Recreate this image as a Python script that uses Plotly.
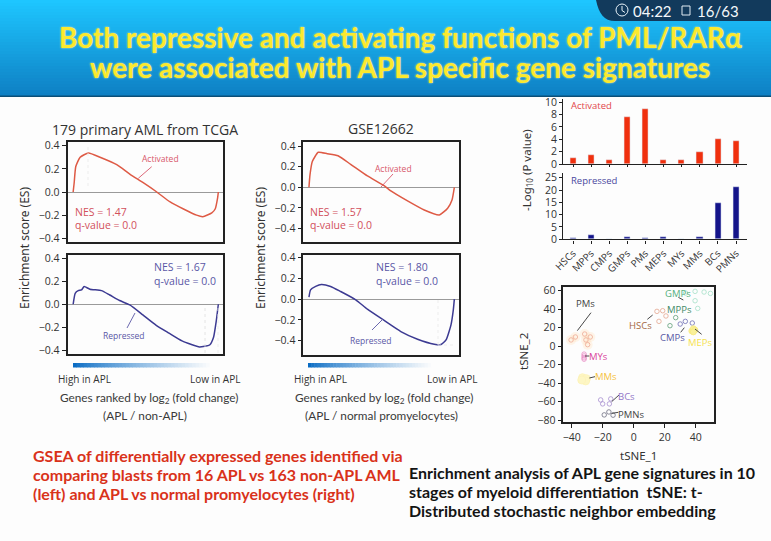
import plotly.graph_objects as go

W, H = 771, 541

# ---------- data ----------
rank_a1 = [0, .007, .018, .048, .105, .185, .30, .39, .485, .576, .668, .76, .85, .893, .955, .978, .995, 1]
es_a1 = [0, .08, .22, .30, .337, .30, .236, .155, .078, 0, -.086, -.147, -.2, -.213, -.18, -.147, -.05, 0]
rank_r1 = [0, .014, .035, .057, .076, .115, .195, .252, .32, .39, .48, .57, .66, .75, .81, .87, .94, .967, .985, 1]
es_r1 = [0, .095, .118, .124, .153, .13, .118, .08, .032, -.006, -.092, -.18, -.25, -.318, -.347, -.37, -.353, -.286, -.15, 0]
rank_a2 = [0, .007, .023, .064, .126, .2, .287, .402, .517, .563, .678, .793, .897, .954, .984, 1]
es_a2 = [0, .12, .25, .34, .326, .306, .223, .11, .016, -.035, -.132, -.22, -.268, -.203, -.123, 0]
rank_r2 = [0, .011, .046, .085, .149, .218, .322, .402, .517, .632, .747, .862, .908, .943, .977, .993, 1]
es_r2 = [.02, .09, .123, .142, .123, .074, -.006, -.097, -.206, -.313, -.387, -.435, -.439, -.394, -.248, -.103, 0]

stages = ["HSCs", "MPPs", "CMPs", "GMPs", "PMs", "MEPs", "MYs", "MMs", "BCs", "PMNs"]
activated = [.9, 1.5, .6, 7.6, 8.9, .7, .7, 1.9, 4.0, 3.7]
repressed = [.5, 1.7, .3, .9, .6, .9, 0, 1.0, 14.9, 21.4]

pms_x = [-40.4, -37.6, -31.6, -28, -30.8, -29.7]
pms_y = [6.8, 10, 13.2, 10, 6.8, 1.7]
hsc_x = [15, 18.7, 20.8, 16.3]
hsc_y = [37.7, 38.4, 32.7, 26.9]
gmp_x = [33.5, 39.6, 45.4, 49.5, 39.6, 41.3]
gmp_y = [57.5, 59.3, 58.6, 57.1, 49.2, 40.9]
mpp_x = [23.4, 27.1]
mpp_y = [22.2, 30.9]
cmp_x = [30, 33.3, 37.8]
cmp_y = [24, 26.9, 25.1]
mep_x = [37.5, 38.5, 39.5, 38.5]
mep_y = [16.5, 19, 17.5, 15.5]
my_x = [-32, -32, -32, -32]
my_y = [-8.5, -10.5, -12.5, -14]
mm_x = [-33, -32, -30.5, -31, -33.5]
mm_y = [-34, -36, -35, -37.5, -36.5]
bc_x = [-21.3, -20, -14.8, -15.7]
bc_y = [-58, -62.3, -56.9, -62.3]
pmn_x = [-19, -16, -13.3]
pmn_y = [-74.2, -71, -74.5]

# ---------- helpers ----------
def px(x): return x / W
def py(y): return 1 - y / H

shapes, annots = [], []
SANS = "Open Sans"
CAL = "Lato"

def rect(x0, y0, x1, y1, color, layer="below"):
    shapes.append(dict(type="rect", xref="paper", yref="paper", x0=px(x0), x1=px(x1),
                       y0=py(y0), y1=py(y1), fillcolor=color, line_width=0, layer=layer))

def seg(x0, y0, x1, y1, color, width=1, dash="solid"):
    shapes.append(dict(type="line", xref="paper", yref="paper", x0=px(x0), x1=px(x1),
                       y0=py(y0), y1=py(y1), line=dict(color=color, width=width, dash=dash), layer="above"))

def text(x, y, s, size=10, color="#333", anchor="center", family=SANS, angle=0, bold=False, shadow=None):
    f = dict(size=size, color=color, family=family)
    if bold: f["weight"] = "bold"
    if shadow: f["shadow"] = shadow
    annots.append(dict(x=px(x), y=py(y), xref="paper", yref="paper", text=s, showarrow=False,
                       xanchor=anchor, yanchor="middle", font=f, textangle=angle))

def lerp(a, b, t):
    return "#%02x%02x%02x" % tuple(round(a[i] + (b[i] - a[i]) * t) for i in range(3))

# header gradient
n = 32
for i in range(n):
    rect(0, 96 * i / n, W, 96 * (i + 1) / n + .5, lerp((30, 198, 255), (14, 128, 196), i / (n - 1)))
rect(0, 95.5, W, 97, "#0b4f78")
shapes.append(dict(type="path", xref="paper", yref="paper", layer="above", line_width=0, fillcolor="#123a5c",
                   path=f"M {px(596)} {py(0)} C {px(599)} {py(14)} {px(604)} {py(21)} {px(615)} {py(21)} L {px(771)} {py(21)} L {px(771)} {py(0)} Z"))
shapes.append(dict(type="circle", xref="paper", yref="paper", layer="above", x0=px(616), x1=px(628), y0=py(4), y1=py(16),
                   line=dict(color="#e8f2f8", width=1), fillcolor="rgba(0,0,0,0)"))
seg(622, 6, 622, 10.5, "#e8f2f8", 1)
seg(622, 10.5, 625, 12.5, "#e8f2f8", 1)
shapes.append(dict(type="rect", xref="paper", yref="paper", layer="above", x0=px(682), x1=px(690), y0=py(6), y1=py(15),
                   line=dict(color="#dfeaf2", width=1), fillcolor="rgba(0,0,0,0)"))
text(652, 11, "04:22", 15, "#f4f8fb", family="Lato")
text(718, 11, "16/63", 15, "#f4f8fb", family="Lato")

glow = "0 0 2px #f3efb0"
text(400, 37, "Both repressive and activating functions of PML/RARα", 28, "#fbe92e", family=CAL, bold=True, shadow=glow)
text(400, 67, "were associated with APL specific gene signatures", 28, "#fbe92e", family=CAL, bold=True, shadow=glow)

# gradient bars under GSEA panels
for x0, x1 in [(73, 213), (308, 434)]:
    m = 40
    for i in range(m):
        a = x0 + (x1 - x0) * i / m
        b = x0 + (x1 - x0) * (i + 1) / m + .5
        t = i / (m - 1)
        rect(a, 363, b, 367.5, lerp((10, 108, 196), (253, 253, 253), t ** .8))

fig = go.Figure()
RED, REDT, BLUE, BLUET = "#de5a45", "#d2505c", "#3c3a92", "#5a57a6"

def dom(ax, x0, x1, y0, y1):
    return dict(domain=[px(x0), px(x1)]), dict(domain=[py(y1), py(y0)])

AX = dict(showline=True, linecolor="#222", linewidth=1.6, showgrid=False, layer="above traces")
TF = dict(family=SANS, size=10.5, color="#333")

def gsea(i, rank, es, color, box, yr, dtick_vals):
    x0, x1, y0, y1 = box
    xd, yd = dom(i, x0, x1, y0, y1)
    xn, yn = ("x", "y") if i == 1 else (f"x{i}", f"y{i}")
    fig.add_trace(go.Scatter(x=rank, y=es, mode="lines", line=dict(color=color, width=1.5, shape="spline", smoothing=.5),
                             xaxis=xn, yaxis=yn, showlegend=False, hoverinfo="skip"))
    fig.update_layout({
        ("xaxis" if i == 1 else f"xaxis{i}"): dict(**AX, **xd, mirror=True, range=[-.039, 1.03],
            showticklabels=False, ticks="", zeroline=False, anchor=yn),
        ("yaxis" if i == 1 else f"yaxis{i}"): dict(**AX, **yd, mirror=True, range=yr, anchor=xn,
            tickvals=dtick_vals, tickformat=".1f", ticks="outside", ticklen=4, tickwidth=1.2, tickcolor="#222",
            tickfont=TF, zeroline=True, zerolinecolor="#9a9a9a", zerolinewidth=1.4),
    })

ticks = [.4, .2, 0, -.2, -.4]
gsea(1, rank_a1, es_a1, RED, (67.5, 222.7, 142, 242), [-.432, .432], ticks)
gsea(2, rank_r1, es_r1, BLUE, (67.5, 222.7, 254.7, 354), [-.431, .429], ticks)
gsea(3, rank_a2, es_a2, RED, (303.3, 458.7, 142.3, 242.3), [-.534, .437], ticks)
gsea(4, rank_r2, es_r2, BLUE, (303.3, 458.7, 254.7, 354.7), [-.537, .43], ticks)

# bars
fig.add_trace(go.Bar(x=stages, y=activated, marker_color="#f0300e", width=.34, xaxis="x5", yaxis="y5", showlegend=False))
fig.add_trace(go.Bar(x=stages, y=repressed, marker_color="#14148a", width=.34, xaxis="x6", yaxis="y6", showlegend=False))
AXB = dict(showline=True, linecolor="#222", linewidth=1.4, showgrid=False, zeroline=False)
xd, yd = dom(5, 563.3, 746.7, 99, 164)
fig.update_layout(
    xaxis5=dict(**AXB, **xd, range=[-.536, 9.59], showticklabels=False, ticks="outside", ticklen=2, tickcolor="#222", anchor="y5", type="category", categoryorder="array", categoryarray=stages),
    yaxis5=dict(**AXB, **yd, range=[0, 10.5], tickvals=[0, 2, 4, 6, 8, 10], ticks="outside", ticklen=3, tickcolor="#222", tickfont=TF, anchor="x5"),
)
xd, yd = dom(6, 563.3, 746.7, 173, 239.3)
fig.update_layout(
    xaxis6=dict(**AXB, **xd, range=[-.536, 9.59], tickangle=-45, ticks="outside", ticklen=3, tickcolor="#222", tickfont=dict(family=SANS, size=10, color="#333"), anchor="y6", type="category", categoryorder="array", categoryarray=stages),
    yaxis6=dict(**AXB, **yd, range=[0, 26.9], tickvals=[0, 5, 10, 15, 20, 25], ticks="outside", ticklen=3, tickcolor="#222", tickfont=TF, anchor="x6"),
)

# tSNE
def pts(x, y, color, fill="rgba(0,0,0,0)", size=4.5):
    fig.add_trace(go.Scatter(x=x, y=y, mode="markers", xaxis="x7", yaxis="y7", showlegend=False, hoverinfo="skip",
                             marker=dict(size=size, color=fill, line=dict(color=color, width=.8))))

pts(pms_x, pms_y, "rgba(255,225,190,0)", "rgba(255,230,200,.4)", 10)
pts(pms_x, pms_y, "#efab94")
pts(hsc_x, hsc_y, "#e3a68f")
pts(gmp_x, gmp_y, "#a5dfc8")
pts(mpp_x, mpp_y, "#5f9e78")
pts(cmp_x, cmp_y, "#6f6fb5")
pts(mep_x, mep_y, "#f8ea80", "#f9f09a", 6)
pts(my_x, my_y, "#e88cc4")
pts(mm_x, mm_y, "#fcf3b8", "#fdf6c4", 8)
pts(bc_x, bc_y, "#a78fd0")
pts(pmn_x, pmn_y, "#6d6d80")
xd, yd = dom(7, 563.3, 714, 287.3, 422.3)
fig.update_layout(
    xaxis7=dict(**AX, **xd, mirror=True, range=[-45.4, 51.8], tickvals=[-40, -20, 0, 20, 40], ticks="outside", ticklen=4, tickcolor="#222", tickfont=TF, zeroline=False, anchor="y7"),
    yaxis7=dict(**AX, **yd, mirror=True, range=[-82.2, 63.7], tickvals=[60, 40, 20, 0, -20, -40, -60, -80], ticks="outside", ticklen=4, tickcolor="#222", tickfont=TF, zeroline=False, anchor="x7"),
)

# GSEA texts
text(145, 130, "179 primary AML from TCGA", 14)
text(381, 128, "GSE12662", 14)
text(24, 248, "Enrichment score (ES)", 12, angle=-90, family="Noto Sans")
text(260, 248, "Enrichment score (ES)", 12, angle=-90, family="Noto Sans")
for x, s1, s2, y in [(73, "NES = 1.47", "q-value = 0.0", 212), (308, "NES = 1.57", "q-value = 0.0", 212)]:
    text(x, y, s1, 10.5, REDT, "left")
    text(x, y + 13, s2, 10.5, REDT, "left")
for x, s1, s2, y in [(152, "NES = 1.67", "q-value = 0.0", 267), (374, "NES = 1.80", "q-value = 0.0", 267)]:
    text(x, y, s1, 10.5, BLUET, "left")
    text(x, y + 13.5, s2, 10.5, BLUET, "left")
text(160, 158.5, "Activated", 8.5, "#d8576a")
seg(151.7, 166.7, 138.3, 178.3, "#d8576a", .9)
text(393, 169, "Activated", 8.5, "#d8576a")
seg(393, 174, 381, 187, "#d8576a", .9)
text(124, 335, "Repressed", 8.5, BLUET)
seg(135, 313, 127, 328, BLUET, .9)
text(371, 340, "Repressed", 8.5, BLUET)
seg(383, 319, 372, 330, BLUET, .9)
seg(88, 147, 88, 187, "#e8e8e8", .8, "dot")
seg(205, 308, 205, 354, "#dddddd", .8, "dot")
seg(218, 308, 218, 354, "#e8e8e8", .8, "dot")
seg(438, 300, 438, 345, "#e8e8e8", .8, "dot")
seg(438, 345, 455, 345, "#e8e8e8", .8, "dot")
for xh, xl, xg, xs, s in [(84, 215, 58, 145, "(APL / non-APL)"), (320, 452, 293, 381, "(APL / normal promyelocytes)")]:
    text(xh, 379, "High in APL", 10)
    text(xl, 379, "Low in APL", 10)
    text(xg, 398, "Genes ranked by log<sub>2</sub> (fold change)", 11.8, "#3a3a3a", anchor="left", family="Lato")
    text(xs, 415, s, 11.8, "#3a3a3a", family="Lato")

# bar texts
text(569, 105, "Activated", 9.5, "#e2474b", "left")
text(569, 180, "Repressed", 9.5, "#4a489e", "left")
text(527, 170, "-Log<sub>10</sub> (P value)", 11.5, angle=-90, family="Noto Sans")

# tSNE texts
def zx(v): return 510 + v / 3
def zy(v): return 280 + v / 3
for label, cx, cy, col, l in [
    ("PMs", 225, 70, "#444", (243, 98, 202, 152)),
    ("GMPs", 503, 40, "#55b07e", (505, 52, 520, 60)),
    ("MPPs", 507, 88, "#3f8a66", None),
    ("HSCs", 392, 135, "#a5683f", (412, 118, 428, 105)),
    ("CMPs", 488, 173, "#5a5aa5", (512, 157, 523, 143)),
    ("MEPs", 570, 186, "#f6e24e", (575, 163, 555, 147)),
    ("MYs", 265, 230, "#d9439b", (238, 228, 225, 228)),
    ("MMs", 287, 290, "#f5c23e", (255, 290, 238, 294)),
    ("BCs", 350, 350, "#9378c8", (327, 345, 305, 365)),
    ("PMNs", 363, 402, "#444", (325, 397, 305, 400)),
]:
    text(zx(cx), zy(cy), label, 9.5, col)
    if l:
        seg(zx(l[0]), zy(l[1]), zx(l[2]), zy(l[3]), "#333", .9)
text(523, 352, "tSNE_2", 11.5, angle=-90, family="Noto Sans")
text(638, 455, "tSNE_1", 11.5, family="Noto Sans")

# captions
RT = "#d9321a"
for y, s in [(455, "GSEA of differentially expressed genes identified via"),
             (474, "comparing blasts from 16 APL vs 163 non-APL AML"),
             (493, "(left) and APL vs normal promyelocytes (right)")]:
    text(31, y, s, 16, RT, "left", CAL, bold=True)
for y, s in [(472, "Enrichment analysis of APL gene signatures in 10"),
             (491, "stages of myeloid differentiation  tSNE: t-"),
             (510, "Distributed stochastic neighbor embedding")]:
    text(407, y, s, 16, "#141414", "left", CAL, bold=True)

fig.update_layout(width=W, height=H, margin=dict(l=0, r=0, t=0, b=0, pad=0, autoexpand=False), autosize=False,
                  paper_bgcolor="#fdfdfd", plot_bgcolor="rgba(0,0,0,0)", showlegend=False,
                  bargap=0, shapes=shapes, annotations=annots)
fig.write_html("out.html", config=dict(displayModeBar=False),
               post_script="document.body.style.margin='0';document.documentElement.style.overflow='hidden';")
